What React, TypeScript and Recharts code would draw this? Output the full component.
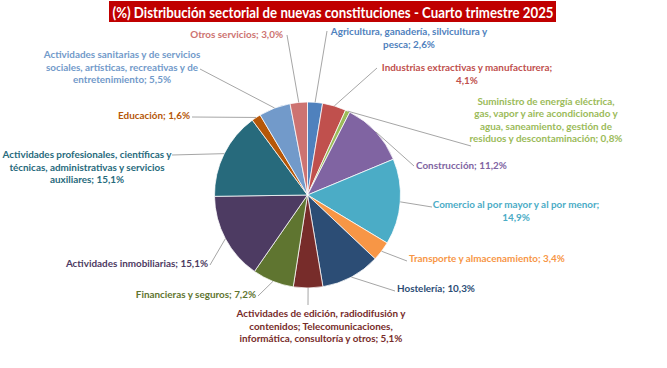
import { PieChart, Pie, Cell } from 'recharts'

const categories = [
  'Agricultura, ganadería, silvicultura y pesca',
  'Industrias extractivas y manufacturera',
  'Suministro de energía eléctrica, gas, vapor y aire acondicionado y agua, saneamiento, gestión de residuos y descontaminación',
  'Construcción',
  'Comercio al por mayor y al por menor',
  'Transporte y almacenamiento',
  'Hostelería',
  'Actividades de edición, radiodifusión y contenidos; Telecomunicaciones, informática, consultoría y otros',
  'Financieras y seguros',
  'Actividades inmobiliarias',
  'Actividades profesionales, científicas y técnicas, administrativas y servicios auxiliares',
  'Educación',
  'Actividades sanitarias y de servicios sociales, artísticas, recreativas y de entretenimiento',
  'Otros servicios',
]

const values = [2.6, 4.1, 0.8, 11.2, 14.9, 3.4, 10.3, 5.1, 7.2, 15.1, 15.1, 1.6, 5.5, 3.0]

const colors = [
  '#4F81BD', '#C0504D', '#9BBB59', '#8064A2', '#4BACC6', '#F79646', '#2C4D75',
  '#772C2A', '#5F7530', '#4D3B62', '#276A7C', '#B65708', '#729ACA', '#CD7371',
]

const TITLE = '(%) Distribución sectorial de nuevas constituciones - Cuarto trimestre 2025'

// label placement, Excel style: text anchor (tx, ty = first line centre), leader end (lx, ly),
// words per line before the last one
type LabelPos = { tx: number; ty: number; anchor: 'start' | 'middle' | 'end'; lx: number; ly: number; words: number[] }
const labelPos: LabelPos[] = [
  { tx: 409, ty: 31, anchor: 'middle', lx: 327, ly: 31, words: [4] },
  { tx: 467, ty: 67, anchor: 'middle', lx: 377, ly: 68, words: [4] },
  { tx: 546, ty: 100.5, anchor: 'middle', lx: 471, ly: 146, words: [4, 6, 4] },
  { tx: 416, ty: 165, anchor: 'start', lx: 414, ly: 166, words: [] },
  { tx: 516, ty: 204, anchor: 'middle', lx: 432, ly: 207, words: [8] },
  { tx: 409, ty: 258, anchor: 'start', lx: 407, ly: 261, words: [] },
  { tx: 397, ty: 288, anchor: 'start', lx: 395, ly: 291, words: [] },
  { tx: 321, ty: 313, anchor: 'middle', lx: 308, ly: 305, words: [5, 2] },
  { tx: 256, ty: 294, anchor: 'end', lx: 258, ly: 296, words: [] },
  { tx: 208, ty: 263, anchor: 'end', lx: 210, ly: 265, words: [] },
  { tx: 87, ty: 154, anchor: 'middle', lx: 172, ly: 155, words: [4, 4] },
  { tx: 190, ty: 115, anchor: 'end', lx: 192, ly: 117, words: [] },
  { tx: 122, ty: 54, anchor: 'middle', lx: 200, ly: 69, words: [5, 5] },
  { tx: 283, ty: 34, anchor: 'end', lx: 287, ly: 35, words: [] },
]

const data = categories.map((name, i) => ({ name, value: values[i] }))

const fmt = (v: number) => `${v.toFixed(1).replace('.', ',')}%`

const splitLines = (text: string, words: number[]) => {
  const parts = text.split(' ')
  const lines: string[] = []
  let at = 0
  for (const n of words) {
    lines.push(parts.slice(at, at + n).join(' '))
    at += n
  }
  lines.push(parts.slice(at).join(' '))
  return lines
}

const LINE_H = 12.6
const RAD = Math.PI / 180

const renderLabel = (props: any) => {
  const { cx, cy, midAngle, outerRadius, index, name, value } = props
  const p = labelPos[index]
  const sx = cx + outerRadius * Math.cos(-midAngle * RAD)
  const sy = cy + outerRadius * Math.sin(-midAngle * RAD)
  const lines = splitLines(`${name}; ${fmt(value)}`, p.words)
  return (
    <g>
      <polyline points={`${sx},${sy} ${p.lx},${p.ly}`} stroke="#A6A6A6" strokeWidth={1} fill="none" />
      <text
        x={p.tx}
        y={p.ty}
        textAnchor={p.anchor}
        dominantBaseline="central"
        fill={colors[index]}
        fontFamily="Lato, sans-serif"
        fontWeight={700}
        fontSize={9.9}
      >
        {lines.map((l, i) => (
          <tspan key={i} x={p.tx} y={p.ty + i * LINE_H}>{l}</tspan>
        ))}
      </text>
    </g>
  )
}

export default function App() {
  return (
    <div style={{ position: 'absolute', left: 0, top: 0, width: 667, height: 368, background: '#fff' }}>
      <svg width={667} height={30} style={{ position: 'absolute', left: 0, top: 0 }}>
        <rect x={109} y={1} width={447} height={21} fill="#C00000" />
        <text
          x={333}
          y={12}
          textAnchor="middle"
          dominantBaseline="central"
          fill="#fff"
          fontFamily="Lato, sans-serif"
          fontWeight={700}
          fontSize={15}
          textLength={441}
          lengthAdjust="spacingAndGlyphs"
        >
          {TITLE}
        </text>
      </svg>
      <PieChart width={667} height={368} margin={{ top: 0, right: 0, bottom: 0, left: 0 }} style={{ position: 'absolute', left: 0, top: 0 }}>
        <Pie
          data={data}
          dataKey="value"
          nameKey="name"
          cx={307.5}
          cy={195}
          outerRadius={93}
          startAngle={90}
          endAngle={-270}
          stroke="#fff"
          strokeWidth={0.75}
          label={renderLabel}
          labelLine={false}
          isAnimationActive={false}
        >
          {data.map((d, i) => (
            <Cell key={d.name} fill={colors[i]} />
          ))}
        </Pie>
      </PieChart>
    </div>
  )
}
